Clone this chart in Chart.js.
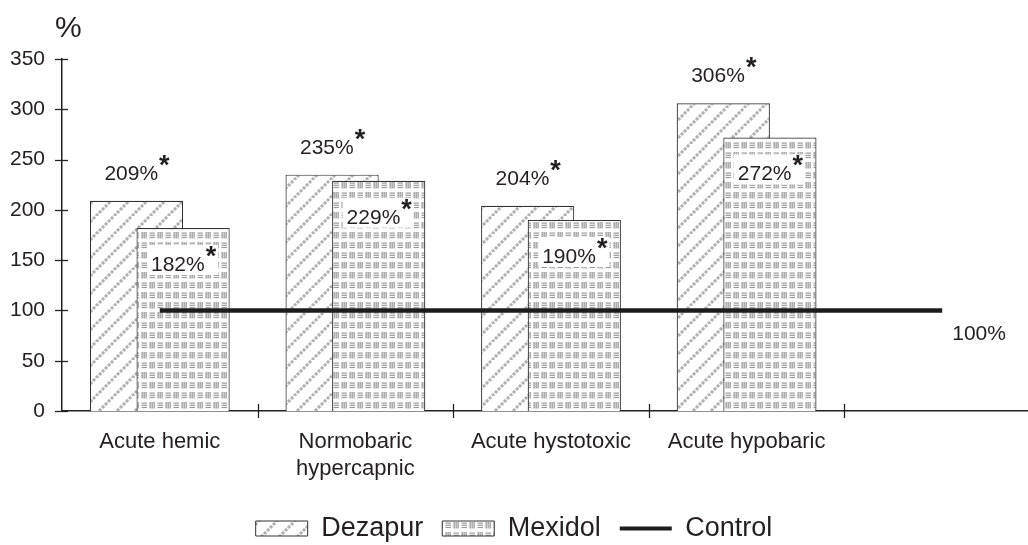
<!DOCTYPE html>
<html><head><meta charset="utf-8">
<script src="https://cdn.jsdelivr.net/npm/chart.js@4/dist/chart.umd.min.js"></script>
<style>
html,body{margin:0;padding:0;width:1028px;height:545px;overflow:hidden;background:#fff;position:relative}
#c{position:absolute;left:-12px;top:0}
</style></head><body>
<canvas id="c" width="1052" height="552"></canvas>
<script>
// ---- data ----
const categories = ['Acute hemic', ['Normobaric', 'hypercapnic'], 'Acute hystotoxic', 'Acute hypobaric', ''];
const dezapur = [209, 235, 204, 306, null];
const mexidol = [182, 229, 190, 272, null];
const control = [100, 100, 100, 100, 100];
const seriesNames = ['Dezapur', 'Mexidol', 'Control'];
const yMin = 0, yMax = 350, yStep = 50;
const axisTitle = '%';
const controlLabel = '100%';
const star = '*';

// ---- styles ----
const FAM = "'Liberation Sans', Arial, Helvetica, sans-serif";
const TXT = '#231f20';
Chart.defaults.font.family = FAM;
Chart.defaults.color = TXT;

function hatchPattern() {
  const s = 18, c = document.createElement('canvas');
  c.width = s; c.height = s;
  const g = c.getContext('2d');
  g.fillStyle = '#fff'; g.fillRect(0, 0, s, s);
  g.strokeStyle = '#b2b2b2'; g.lineWidth = 3;
  g.setLineDash([3, 1.243]);
  for (const o of [-s, 0, s]) { g.beginPath(); g.moveTo(o, s); g.lineTo(o + s, 0); g.stroke(); }
  return g.createPattern(c, 'repeat');
}
function gridPattern() {
  const w = 16, h = 10, c = document.createElement('canvas');
  c.width = w; c.height = h * 2;
  const g = c.getContext('2d');
  g.fillStyle = '#fff'; g.fillRect(0, 0, w, h * 2);
  g.fillStyle = '#9a9a9a';
  const vcell = (x, y) => { for (let i = 0; i < 3; i++) g.fillRect(x + 1.5 + i * 2, y + 2, 1.3, 6.5); };
  const hcell = (x, y) => { for (let i = 0; i < 3; i++) g.fillRect(x + 1.5, y + 2.5 + i * 2.2, 5.5, 1.2); };
  vcell(0, 0); hcell(8, 0); hcell(0, 10); vcell(8, 10);
  return g.createPattern(c, 'repeat');
}

function drawValue(ctx, x, baseline, value, boxed) {
  const text = value + '%';
  ctx.font = `21px ${FAM}`;
  const w1 = ctx.measureText(text).width;
  ctx.font = `bold 27px ${FAM}`;
  const w2 = ctx.measureText(star).width;
  const x0 = x - (w1 + w2) / 2;
  if (boxed) {
    ctx.fillStyle = '#fff';
    ctx.fillRect(x0 - 4, baseline - 26, w1 + w2 + 7, 30);
  }
  ctx.fillStyle = TXT;
  ctx.textAlign = 'left';
  ctx.textBaseline = 'alphabetic';
  ctx.font = `21px ${FAM}`;
  ctx.fillText(text, x0, baseline);
  ctx.font = `bold 27px ${FAM}`;
  ctx.fillText(star, x0 + w1 + 1, baseline - 6);
}

// Mexidol is placed right of Dezapur but painted over it
const layering = {
  id: 'layering',
  beforeDatasetDraw(chart, args) {
    if (args.index === 1) return false;
  },
  afterDatasetDraw(chart, args) {
    if (args.index === 0) chart.getDatasetMeta(1).controller.draw();
  }
};

const decor = {
  id: 'decor',
  afterDatasetsDraw(chart) {
    const ctx = chart.ctx;
    ctx.save();
    chart.getDatasetMeta(0).data.forEach((el, i) => {
      if (dezapur[i] == null) return;
      drawValue(ctx, el.x, el.y - 21, dezapur[i], false);
    });
    chart.getDatasetMeta(1).data.forEach((el, i) => {
      if (mexidol[i] == null) return;
      drawValue(ctx, el.x, el.y + 43, mexidol[i], true);
    });
    const pts = chart.getDatasetMeta(2).data;
    const last = pts[pts.length - 1];
    ctx.font = `21px ${FAM}`;
    ctx.fillStyle = TXT;
    ctx.textAlign = 'left';
    ctx.textBaseline = 'alphabetic';
    ctx.fillText(controlLabel, last.x + 10, last.y + 30);
    ctx.restore();
  },
  afterDraw(chart) {
    const ctx = chart.ctx, ca = chart.chartArea;
    const ys = chart.scales.y, xs = chart.scales.x;
    ctx.save();
    ctx.strokeStyle = '#222';
    ctx.lineWidth = 1.3;
    ys.ticks.forEach(t => {
      const y = Math.round(ys.getPixelForValue(t.value)) + 0.5;
      ctx.beginPath(); ctx.moveTo(ca.left - 7, y); ctx.lineTo(ca.left + 6, y); ctx.stroke();
    });
    for (let i = 1; i < categories.length; i++) {
      const x = Math.round((xs.getPixelForValue(i - 1) + xs.getPixelForValue(i)) / 2) + 0.5;
      ctx.beginPath(); ctx.moveTo(x, ca.bottom - 7); ctx.lineTo(x, ca.bottom + 7); ctx.stroke();
    }
    ctx.fillStyle = TXT;
    ctx.font = `30px ${FAM}`;
    ctx.textAlign = 'left';
    ctx.textBaseline = 'alphabetic';
    ctx.fillText(axisTitle, ca.left - 7, 37);
    ctx.restore();
  }
};

const hatch = hatchPattern();
const grid = gridPattern();

new Chart(document.getElementById('c'), {
  type: 'bar',
  data: {
    labels: categories,
    datasets: [
      { label: seriesNames[0], data: dezapur, backgroundColor: hatch, borderColor: '#333', borderWidth: 1.2,
        order: 2, categoryPercentage: 0.4765, barPercentage: 2.0 },
      { label: seriesNames[1], data: mexidol, backgroundColor: grid, borderColor: '#333', borderWidth: 1.2,
        order: 2, categoryPercentage: 0.4765, barPercentage: 2.0 },
      { type: 'line', label: seriesNames[2], data: control, borderColor: '#1c1c1c', backgroundColor: '#1c1c1c',
        borderWidth: 4.5, pointRadius: 0, fill: false, order: 1 }
    ]
  },
  options: {
    responsive: false,
    animation: false,
    devicePixelRatio: 1,
    layout: { padding: { top: 59, left: 0, right: 0, bottom: 0 } },
    plugins: {
      tooltip: { enabled: false },
      legend: {
        position: 'bottom',
        labels: {
          usePointStyle: true,
          pointStyleWidth: 52,
          boxHeight: 15,
          padding: 19,
          color: TXT,
          font: { size: 27, family: FAM },
          sort: (a, b) => a.datasetIndex - b.datasetIndex,
          generateLabels(chart) {
            const items = Chart.defaults.plugins.legend.labels.generateLabels(chart);
            items.forEach(it => {
              if (it.datasetIndex === 2) {
                it.pointStyle = 'line'; it.lineWidth = 4; it.strokeStyle = '#1c1c1c';
              } else {
                it.pointStyle = 'rect'; it.lineWidth = 1;
              }
            });
            return items;
          }
        }
      }
    },
    scales: {
      x: {
        grid: { display: false, drawTicks: false },
        border: { color: '#222', width: 1.5 },
        ticks: { font: { size: 22 }, color: TXT, padding: 18, maxRotation: 0, autoSkip: false },
        afterFit(s) { s.height = 85; }
      },
      y: {
        min: yMin, max: yMax,
        grid: { display: false, drawTicks: false },
        border: { color: '#222', width: 1.5 },
        ticks: { stepSize: yStep, font: { size: 21 }, color: TXT, padding: 17 },
        afterFit(s) { s.width = 74; }
      }
    }
  },
  plugins: [layering, decor]
});
</script>
</body></html>
